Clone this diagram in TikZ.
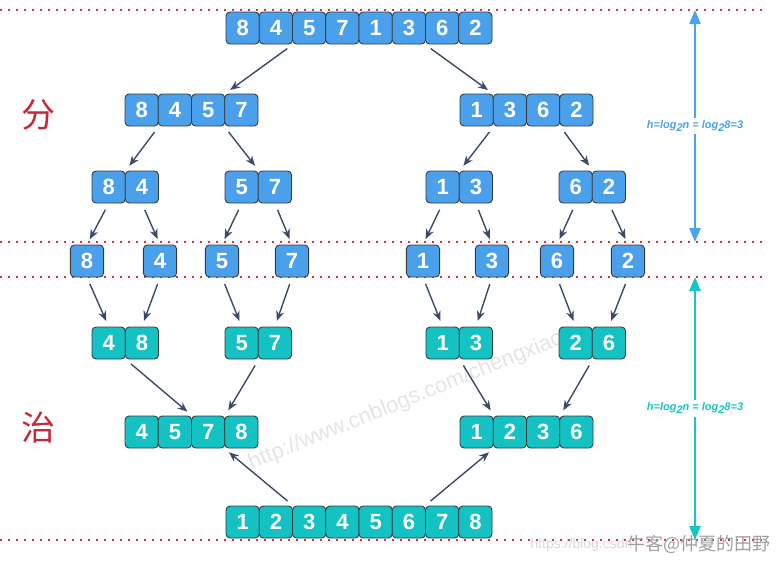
\documentclass[tikz,border=0pt]{standalone}
\usepackage{fontspec}
\setmainfont{Liberation Sans}
\newfontfamily\cellfont{Liberation Sans Bold}
\newfontfamily\hfont{Liberation Sans Bold Italic}
\newfontfamily\cjk{Noto Sans CJK SC}
\usepackage{tikz}
\usetikzlibrary{positioning,calc,arrows.meta}
\definecolor{cellblue}{RGB}{74,160,234}
\definecolor{cellteal}{RGB}{20,193,195}
\definecolor{edgegrey}{RGB}{55,58,64}
\definecolor{arrownavy}{RGB}{59,74,107}
\definecolor{dotred}{RGB}{217,48,62}
\definecolor{hblue}{RGB}{74,163,238}
\definecolor{hteal}{RGB}{22,198,198}

\begin{document}
\begin{tikzpicture}[
  x=1pt, y=-1pt,
  cell/.style={draw=edgegrey, line width=0.9pt, rounded corners=4pt, minimum width=33.25pt, minimum height=32pt, inner sep=0pt, text=white, font=\cellfont\fontsize{22}{22}\selectfont},
  bcell/.style={cell, fill=cellblue},
  gcell/.style={cell, fill=cellteal},
  arr/.style={-{Stealth[length=10pt, width=8pt]}, line width=1.4pt, arrownavy, shorten <=7pt, shorten >=6pt},
  level/.style={dotred, line width=1.5pt, dash pattern=on 2pt off 6pt},
  height/.style={{Triangle[length=14pt, width=11pt]}-{Triangle[length=14pt, width=11pt]}, line width=2.6pt},
  hlabel/.style={fill=white, inner sep=3pt, font=\hfont\fontsize{11}{11}\selectfont},
  side/.style={dotred!90!black, font=\cjk\fontsize{34}{34}\selectfont}
]
\useasboundingbox (0,0) rectangle (782,562);

% watermark
\node[rotate=22, text=gray!20, font=\fontsize{22}{22}\selectfont] (mark) at (406,401) {http://www.cnblogs.com/chengxiao};

% levels
\draw[level] (0,10) -- (765,10);
\draw[level] (0,242) -- (765,242);
\draw[level] (0,277) -- (765,277);
\draw[level] (0,540) -- (765,540);

% divide
\foreach \v [count=\i] in {8,4,5,7,1,3,6,2}
  \node[bcell] (top\i) at ({209.4+33.25*\i},28) {\v};
\foreach \v [count=\i] in {8,4,5,7}
  \node[bcell] (ha\i) at ({108.4+33.25*\i},110) {\v};
\foreach \v [count=\i] in {1,3,6,2}
  \node[bcell] (hb\i) at ({443.4+33.25*\i},110) {\v};
\foreach \v [count=\i] in {8,4}
  \node[bcell] (qa\i) at ({75.4+33.25*\i},187) {\v};
\foreach \v [count=\i] in {5,7}
  \node[bcell] (qb\i) at ({208.4+33.25*\i},187) {\v};
\foreach \v [count=\i] in {1,3}
  \node[bcell] (qc\i) at ({409.4+33.25*\i},187) {\v};
\foreach \v [count=\i] in {6,2}
  \node[bcell] (qd\i) at ({542.4+33.25*\i},187) {\v};

% single elements
\foreach \v/\x [count=\i] in {8/87,4/160,5/222,7/292,1/423,3/492,6/557,2/628}
  \node[bcell] (one\i) at (\x,261) {\v};

% merge
\foreach \v [count=\i] in {4,8}
  \node[gcell] (pa\i) at ({75.4+33.25*\i},343) {\v};
\foreach \v [count=\i] in {5,7}
  \node[gcell] (pb\i) at ({208.4+33.25*\i},343) {\v};
\foreach \v [count=\i] in {1,3}
  \node[gcell] (pc\i) at ({409.4+33.25*\i},343) {\v};
\foreach \v [count=\i] in {2,6}
  \node[gcell] (pd\i) at ({542.4+33.25*\i},343) {\v};
\foreach \v [count=\i] in {4,5,7,8}
  \node[gcell] (ma\i) at ({108.4+33.25*\i},432) {\v};
\foreach \v [count=\i] in {1,2,3,6}
  \node[gcell] (mb\i) at ({443.4+33.25*\i},432) {\v};
\foreach \v [count=\i] in {1,2,3,4,5,6,7,8}
  \node[gcell] (res\i) at ({209.4+33.25*\i},522) {\v};

\draw[arr] (top2.south east) -- (ha3.north east);
\draw[arr] (top7.south west) -- (hb2.north west);
\draw[arr] (ha1.south east) -- (qa1.north east);
\draw[arr] (ha4.south west) -- (qb1.north east);
\draw[arr] (hb1.south east) -- (qc1.north east);
\draw[arr] (hb3.south east) -- (qd1.north east);

\draw[arr] (qa1.south) -- (one1.north);
\draw[arr] (qa2.south) -- (one2.north);
\draw[arr] (qb1.south) -- (one3.north);
\draw[arr] (qb2.south) -- (one4.north);
\draw[arr] (qc1.south) -- (one5.north);
\draw[arr] (qc2.south) -- (one6.north);
\draw[arr] (qd1.south) -- (one7.north);
\draw[arr] (qd2.south) -- (one8.north);

\draw[arr] (one1.south) -- (pa1.north);
\draw[arr] (one2.south) -- (pa2.north);
\draw[arr] (one3.south) -- (pb1.north);
\draw[arr] (one4.south) -- (pb2.north);
\draw[arr] (one5.south) -- (pc1.north);
\draw[arr] (one6.south) -- (pc2.north);
\draw[arr] (one7.south) -- (pd1.north);
\draw[arr] (one8.south) -- (pd2.north);

\draw[arr] (pa1.south east) -- (ma2.north east);
\draw[arr] (pb1.south east) -- (ma3.north east);
\draw[arr] (pc1.south east) -- (mb1.north east);
\draw[arr] (pd1.south east) -- (mb3.north east);
\draw[arr] (res2.north east) -- (ma4.south west);
\draw[arr] (res7.north west) -- (mb1.south east);

% height of the tree
\coordinate (btop) at (695,10);
\coordinate (bbot) at (695,242);
\coordinate (ttop) at (695,277);
\coordinate (tbot) at (695,540);
\draw[height, hblue] (btop) -- node[hlabel, text=hblue] {h=log\raisebox{-3pt}{2}n = log\raisebox{-3pt}{2}8=3} (bbot);
\draw[height, hteal] (ttop) -- node[hlabel, text=hteal] {h=log\raisebox{-3pt}{2}n = log\raisebox{-3pt}{2}8=3} (tbot);

\node[side] (fen) at (38,115) {分};
\node[side] (zhi) at (38,428) {治};

% corner mark
\node[anchor=west, text=gray!30, font=\fontsize{14}{14}\selectfont] (url) at (527,545) {https://blog.csdn};
\node[anchor=west, text=gray!75, font=\cjk\fontsize{18}{18}\selectfont] (user) at (624,544) {牛客@仲夏的田野};
\end{tikzpicture}
\end{document}
